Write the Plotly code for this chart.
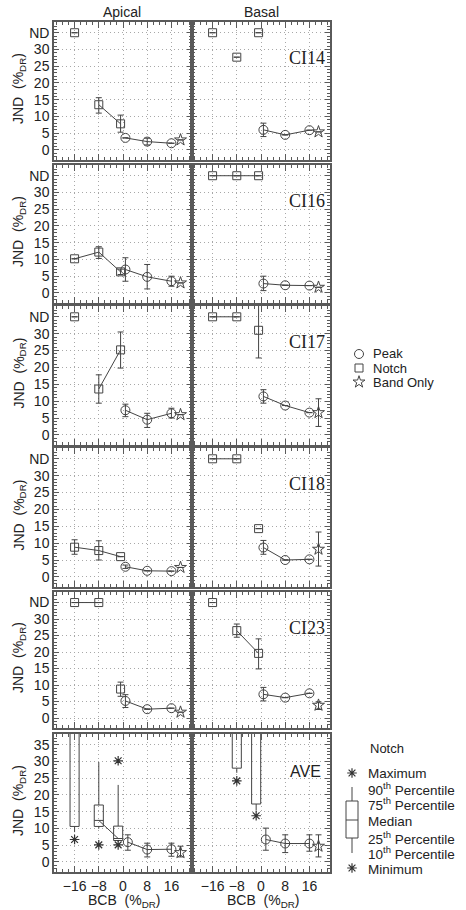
import plotly.graph_objects as go

W, H = 466, 910
ND = 35  # plotted level for "not detectable"

subjects = ["CI14", "CI16", "CI17", "CI18", "CI23"]
bcb_notch = [-16, -8, -0.8]
bcb_peak = [0.8, 8, 16]
bcb_band = 19
bcb_notch_ave = [-16, -8, -1.6]
bcb_peak_ave = [1.6, 8, 16]
y_ticks = [0, 5, 10, 15, 20, 25, 30, 35]
x_ticks = [-16, -8, 0, 8, 16]
x_ticktext = ["\u221216", "\u22128", "0", "8", "16"]

# ---- individual subjects, apical electrodes ----
apical_notch = [[ND, 13.5, 7.8], [10.2, 12.2, 6.3], [ND, 13.6, 25.2], [8.8, 7.8, 6.0], [ND, ND, 8.8]]
apical_notch_up = [[0, 2.1, 2.6], [0, 1.6, 0.8], [0, 4.2, 5.3], [2.2, 2.9, 0], [0, 0, 2.1]]
apical_notch_dn = [[0, 2.5, 2.5], [0, 1.9, 0.8], [0, 4.2, 5.4], [2.1, 2.8, 0], [0, 0, 2.2]]
apical_peak = [[3.6, 2.5, 2.0], [7.0, 4.8, 3.5], [7.3, 4.5, 6.4], [3.0, 1.8, 1.7], [5.2, 2.7, 3.0]]
apical_peak_up = [[0, 1.0, 0], [3.5, 3.7, 1.5], [1.8, 1.9, 1.5], [0.5, 0, 0], [1.9, 0, 0]]
apical_peak_dn = [[0, 1.0, 0], [3.5, 3.6, 1.5], [1.9, 2.3, 1.4], [0.5, 0, 0], [2.0, 0, 0]]
apical_band = [3.0, 3.0, 6.0, 2.8, 1.8]
apical_band_up = [0, 0, 0, 0, 0]
apical_band_dn = [0, 0, 0, 0, 0]

# ---- individual subjects, basal electrodes ----
basal_notch = [[ND, 27.7, ND], [ND, ND, ND], [ND, ND, 31.0], [ND, ND, 14.3], [ND, 26.5, 19.6]]
basal_notch_up = [[0, 0, 0], [0, 0, 0], [0, 0, 8.0], [0, 0, 0], [0, 2.0, 4.4]]
basal_notch_dn = [[0, 0, 0], [0, 0, 0], [0, 0, 8.2], [0, 0, 0], [0, 2.0, 4.7]]
basal_peak = [[6.0, 4.5, 5.9], [2.8, 2.3, 2.2], [11.4, 8.7, 6.6], [8.7, 5.0, 5.2], [7.2, 6.2, 7.5]]
basal_peak_up = [[2.0, 0, 0], [2.2, 0, 0], [2.0, 0, 0], [2.1, 0, 0], [2.1, 0, 0]]
basal_peak_dn = [[2.0, 0, 0], [2.1, 0, 0], [2.0, 0, 0], [2.0, 0, 0], [2.0, 0, 0]]
basal_band = [5.4, 1.7, 6.6, 8.2, 3.9]
basal_band_up = [0, 0, 4.1, 5.1, 1.0]
basal_band_dn = [0, 0, 4.1, 5.0, 1.3]

# ---- group average (AVE): notch distributions ----
ave_ap_q1 = [10.6, 10.6, 6.4]
ave_ap_med = [42.0, 12.4, 7.0]
ave_ap_q3 = [46.0, 17.0, 10.7]
ave_ap_p10 = [8.9, 10.0, 6.0]
ave_ap_p90 = [50.0, 29.8, 23.0]
ave_ap_min = [6.7, 5.1, 5.1]
ave_ap_max = [None, None, 30.2]

ave_bs_pos = [-8, -1.6]
ave_bs_q1 = [28.0, 17.3]
ave_bs_med = [42.0, 40.0]
ave_bs_q3 = [46.0, 46.0]
ave_bs_p10 = [26.6, 15.3]
ave_bs_p90 = [50.0, 50.0]
ave_bs_min = [24.2, 13.8]

# ---- group average (AVE): peak and band-only ----
ave_ap_peak = [5.9, 3.7, 3.8]
ave_ap_peak_up = [2.2, 1.9, 1.8]
ave_ap_peak_dn = [2.4, 2.2, 2.1]
ave_ap_band, ave_ap_band_up, ave_ap_band_dn = 2.8, 1.9, 1.3
ave_bs_peak = [6.7, 5.5, 5.5]
ave_bs_peak_up = [3.4, 2.6, 2.6]
ave_bs_peak_dn = [3.2, 2.7, 2.3]
ave_bs_band, ave_bs_band_up, ave_bs_band_dn = 4.7, 3.4, 3.2

# ---- styling ----
INK = "#444444"
FRAME = "#5a5a5a"
TXT = "#222222"
GRID = "#a8a8a8"
SANS = "Liberation Sans, Arial, sans-serif"
SERIF = "Liberation Serif, Times New Roman, serif"

panel_tops = [22, 165, 306, 448, 592, 734]
panel_bots = [160, 303, 445, 587, 728, 872]
col_left = [54, 192]
col_right = [192, 330]
X_RANGE = [-22.8, 22.8]
Y_RANGE = [-3.0, 38.2]


def px(x):
    return x / W


def py(y):
    return 1 - y / H


def label(text, x, y, size=14, family=SANS, xanchor="center", angle=0):
    return dict(text=text, x=px(x), y=py(y), xref="paper", yref="paper", showarrow=False,
                xanchor=xanchor, yanchor="middle", textangle=angle,
                font=dict(family=family, size=size, color=TXT))


def notch_path(xs, ys, up, dn):
    """Join neighbouring notch points, but break the line between ND and measured values."""
    ox, oy, ou, od = [], [], [], []
    for i, (x, y, u, d) in enumerate(zip(xs, ys, up, dn)):
        if i and ((y == ND) != (ys[i - 1] == ND)):
            ox.append(None); oy.append(None); ou.append(0); od.append(0)
        ox.append(x); oy.append(y); ou.append(u); od.append(d)
    return ox, oy, ou, od


def err(up, dn):
    return dict(type="data", symmetric=False, array=up, arrayminus=dn,
                color=INK, thickness=1, width=3)


def axis_names(row, col):
    k = row * 2 + col + 1
    s = "" if k == 1 else str(k)
    return "x" + s, "y" + s, "xaxis" + s, "yaxis" + s


fig = go.Figure()
annotations = []
axes = {}

for row in range(6):
    for col in range(2):
        xr, yr, xname, yname = axis_names(row, col)
        last = row == 5
        axes[xname] = dict(
            domain=[px(col_left[col]), px(col_right[col])], anchor=yr, range=X_RANGE,
            tickmode="array", tickvals=x_ticks, ticktext=x_ticktext,
            showticklabels=last, ticks="inside", ticklen=6, tickwidth=1, tickcolor=FRAME,
            minor=dict(ticks="inside", ticklen=3, dtick=2, tick0=0, tickcolor=FRAME, showgrid=False),
            showline=True, mirror="allticks", linecolor=FRAME, linewidth=1.5,
            showgrid=True, gridcolor=GRID, griddash="1px,3px", gridwidth=1, zeroline=False,
            tickfont=dict(family=SANS, size=14, color=TXT),
        )
        yt = [str(v) for v in y_ticks]
        if not last:
            yt[-1] = "ND"
        axes[yname] = dict(
            domain=[py(panel_bots[row]), py(panel_tops[row])], anchor=xr, range=Y_RANGE,
            tickmode="array", tickvals=y_ticks, ticktext=yt,
            showticklabels=(col == 0), ticks="inside", ticklen=5, tickwidth=1, tickcolor=FRAME,
            minor=dict(ticks="inside", ticklen=3, dtick=1, tick0=0, tickcolor=FRAME, showgrid=False),
            showline=True, mirror="allticks", linecolor=FRAME, linewidth=1.5,
            showgrid=True, gridcolor=GRID, griddash="1px,3px", gridwidth=1, zeroline=False,
            tickfont=dict(family=SANS, size=14, color=TXT),
        )

line_style = dict(color=INK, width=1)
circ = dict(symbol="circle-open", size=9, color=INK, line=dict(width=1, color=INK))
sq = dict(symbol="square-open", size=8, color=INK, line=dict(width=1, color=INK))
star = dict(symbol="star-open", size=9, color=INK, line=dict(width=1, color=INK))
aster = dict(symbol="asterisk-open", size=8, color="#333333", line=dict(width=1.2, color="#333333"))

# individual subject panels
for row, subj in enumerate(subjects):
    for col, (nv, nu, nd_, pv, pu, pd_, bv, bu, bd) in enumerate([
        (apical_notch, apical_notch_up, apical_notch_dn, apical_peak, apical_peak_up,
         apical_peak_dn, apical_band, apical_band_up, apical_band_dn),
        (basal_notch, basal_notch_up, basal_notch_dn, basal_peak, basal_peak_up,
         basal_peak_dn, basal_band, basal_band_up, basal_band_dn),
    ]):
        xr, yr, _, _ = axis_names(row, col)
        nx, ny, nuu, ndd = notch_path(bcb_notch, nv[row], nu[row], nd_[row])
        fig.add_trace(go.Scatter(x=nx, y=ny, mode="lines+markers", marker=sq, line=line_style,
                                 error_y=err(nuu, ndd), xaxis=xr, yaxis=yr,
                                 showlegend=False, connectgaps=False))
        fig.add_trace(go.Scatter(x=bcb_peak, y=pv[row], mode="lines+markers", marker=circ,
                                 line=line_style, error_y=err(pu[row], pd_[row]),
                                 xaxis=xr, yaxis=yr, showlegend=False))
        fig.add_trace(go.Scatter(x=[bcb_band], y=[bv[row]], mode="markers", marker=star,
                                 error_y=err([bu[row]], [bd[row]]),
                                 xaxis=xr, yaxis=yr, showlegend=False))
    annotations.append(label(subj, 307, panel_tops[row] + 36, size=18, family=SERIF))

# group-average panel
box_style = dict(line=dict(color=INK, width=1), fillcolor="rgba(255,255,255,0)",
                 whiskerwidth=0, width=3, boxpoints=False, showlegend=False, hoverinfo="skip")
xr, yr, _, _ = axis_names(5, 0)
fig.add_trace(go.Box(x=bcb_notch_ave, q1=ave_ap_q1, median=ave_ap_med, q3=ave_ap_q3,
                     lowerfence=ave_ap_p10, upperfence=ave_ap_p90, xaxis=xr, yaxis=yr, **box_style))
fig.add_trace(go.Scatter(x=bcb_notch_ave[1:], y=ave_ap_med[1:], mode="lines", line=line_style,
                         xaxis=xr, yaxis=yr, showlegend=False))
fig.add_trace(go.Scatter(x=bcb_notch_ave, y=ave_ap_min, mode="markers", marker=aster,
                         xaxis=xr, yaxis=yr, showlegend=False))
fig.add_trace(go.Scatter(x=bcb_notch_ave, y=ave_ap_max, mode="markers", marker=aster,
                         xaxis=xr, yaxis=yr, showlegend=False))
fig.add_trace(go.Scatter(x=bcb_peak_ave, y=ave_ap_peak, mode="lines+markers", marker=circ,
                         line=line_style, error_y=err(ave_ap_peak_up, ave_ap_peak_dn),
                         xaxis=xr, yaxis=yr, showlegend=False))
fig.add_trace(go.Scatter(x=[bcb_band], y=[ave_ap_band], mode="markers", marker=star,
                         error_y=err([ave_ap_band_up], [ave_ap_band_dn]),
                         xaxis=xr, yaxis=yr, showlegend=False))

xr, yr, _, _ = axis_names(5, 1)
fig.add_trace(go.Box(x=ave_bs_pos, q1=ave_bs_q1, median=ave_bs_med, q3=ave_bs_q3,
                     lowerfence=ave_bs_p10, upperfence=ave_bs_p90, xaxis=xr, yaxis=yr, **box_style))
fig.add_trace(go.Scatter(x=ave_bs_pos, y=ave_bs_min, mode="markers", marker=aster,
                         xaxis=xr, yaxis=yr, showlegend=False))
fig.add_trace(go.Scatter(x=bcb_peak_ave, y=ave_bs_peak, mode="lines+markers", marker=circ,
                         line=line_style, error_y=err(ave_bs_peak_up, ave_bs_peak_dn),
                         xaxis=xr, yaxis=yr, showlegend=False))
fig.add_trace(go.Scatter(x=[bcb_band], y=[ave_bs_band], mode="markers", marker=star,
                         error_y=err([ave_bs_band_up], [ave_bs_band_dn]),
                         xaxis=xr, yaxis=yr, showlegend=False))
annotations.append(label("AVE", 305, panel_tops[5] + 37, size=16))

# column headings, axis titles
for name, cx in (("Apical", 122), ("Basal", 261)):
    annotations.append(label(name, cx, 12))
    annotations.append(label("BCB  (%<sub>DR</sub>)", cx + 2, 901))
for row in range(6):
    cy = (panel_tops[row] + panel_bots[row]) / 2 - 2
    annotations.append(label("JND  (%<sub>DR</sub>)", 19, cy, angle=-90))

# key: symbols (drawn on an overlay axis measured in page pixels)
axes["xaxis13"] = dict(domain=[0, 1], range=[0, W], visible=False, anchor="y13")
axes["yaxis13"] = dict(domain=[0, 1], range=[H, 0], visible=False, anchor="x13")
key_rows = [("Peak", circ, 354), ("Notch", sq, 368), ("Band Only", star, 382)]
for text, mk, ky in key_rows:
    fig.add_trace(go.Scatter(x=[359], y=[ky], mode="markers", marker=mk, xaxis="x13", yaxis="y13",
                             showlegend=False, hoverinfo="skip"))
    annotations.append(label(text, 371, ky, size=13, xanchor="left"))

# key: notch distribution glyph
kx = 352
fig.add_trace(go.Scatter(x=[kx, kx], y=[773, 868], mode="markers", marker=aster,
                         xaxis="x13", yaxis="y13", showlegend=False, hoverinfo="skip"))
shapes = [
    dict(type="rect", xref="paper", yref="paper", x0=px(kx - 6), x1=px(kx + 6),
         y0=py(838), y1=py(801), line=dict(color=INK, width=1)),
    dict(type="line", xref="paper", yref="paper", x0=px(kx - 6), x1=px(kx + 6),
         y0=py(820), y1=py(820), line=dict(color=INK, width=1)),
    dict(type="line", xref="paper", yref="paper", x0=px(kx), x1=px(kx),
         y0=py(787), y1=py(801), line=dict(color=INK, width=1)),
    dict(type="line", xref="paper", yref="paper", x0=px(kx), x1=px(kx),
         y0=py(838), y1=py(853), line=dict(color=INK, width=1)),
]
annotations.append(label("Notch", 368, 748, size=13, xanchor="left"))
for text, ky in (("Maximum", 773), ("90<sup>th</sup> Percentile", 789),
                 ("75<sup>th</sup> Percentile", 804), ("Median", 821),
                 ("25<sup>th</sup> Percentile", 838), ("10<sup>th</sup> Percentile", 853),
                 ("Minimum", 869)):
    annotations.append(label(text, 366, ky, size=13.5, xanchor="left"))

fig.update_layout(width=W, height=H, margin=dict(l=0, r=0, t=0, b=0),
                  paper_bgcolor="white", plot_bgcolor="rgba(0,0,0,0)",
                  annotations=annotations, shapes=shapes, showlegend=False, **axes)

fig.write_html("out.html")
